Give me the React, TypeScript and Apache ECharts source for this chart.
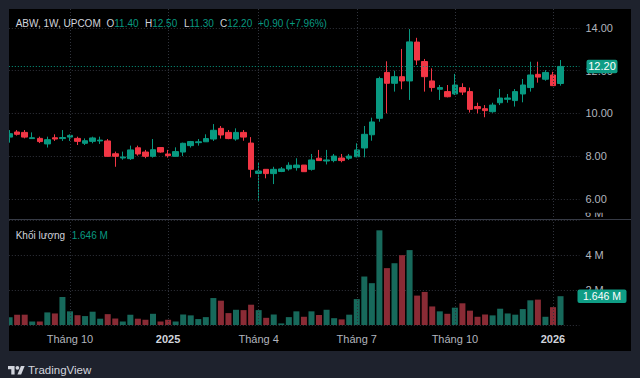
import React, { useEffect, useRef } from 'react';
import * as echarts from 'echarts';

// ---- data (weekly, ABW UPCOM) ----
const firstWeek = '2024-08-12';
const skippedWeeks = ['2025-01-27']; // Tết holiday, no trading week
const padWeeks = 2; // empty room at the right edge

const open = [
  8.89, 9.13, 9.11, 8.82, 8.83, 8.57, 8.86, 8.82, 8.89, 8.83,
  8.60, 8.69, 8.71, 8.71, 8.11, 7.91, 7.88, 8.39, 8.19, 7.99,
  8.40, 8.10, 7.99, 8.19, 8.49, 8.63, 8.67, 8.80, 9.30, 9.11,
  8.80, 9.11, 8.61, 7.19, 7.38, 7.18, 7.28, 7.40, 7.46, 7.58,
  7.38, 7.90, 7.77, 7.79, 7.91, 7.90, 7.97, 8.38, 9.00, 9.77,
  11.92, 11.41, 11.72, 11.52, 13.34, 12.43, 11.52, 11.13, 11.02, 10.91,
  11.21, 11.02, 10.32, 10.22, 10.08, 10.50, 10.66, 10.60, 10.91, 11.21,
  11.83, 11.60, 11.80, 11.40,
];
const close = [
  9.05, 9.02, 8.89, 8.86, 8.68, 8.77, 8.80, 8.87, 8.97, 8.69,
  8.72, 8.85, 8.75, 7.99, 7.99, 7.96, 8.29, 8.10, 7.99, 8.30,
  8.19, 8.02, 8.21, 8.60, 8.68, 8.67, 8.82, 9.21, 8.99, 8.82,
  9.11, 8.89, 7.38, 7.30, 7.18, 7.38, 7.40, 7.57, 7.58, 7.27,
  7.82, 7.79, 7.82, 8.00, 7.79, 8.00, 8.29, 9.02, 9.60, 11.63,
  11.41, 11.72, 11.52, 13.35, 12.50, 11.72, 11.21, 11.21, 10.78, 11.33,
  11.00, 10.19, 10.22, 10.13, 10.39, 10.72, 10.72, 11.02, 11.33, 11.80,
  11.70, 11.92, 11.30, 12.20,
];
const low = [
  8.63, 8.96, 8.83, 8.81, 8.61, 8.40, 8.71, 8.71, 8.71, 8.52,
  8.52, 8.60, 8.57, 7.97, 7.50, 7.83, 7.82, 8.02, 7.90, 7.93,
  8.16, 7.93, 7.97, 8.00, 8.40, 8.49, 8.66, 8.71, 8.82, 8.79,
  8.72, 8.72, 7.00, 5.91, 6.96, 6.69, 7.25, 7.32, 7.32, 7.27,
  7.32, 7.79, 7.61, 7.71, 7.71, 7.82, 7.94, 7.94, 8.72, 9.61,
  10.00, 11.02, 11.13, 10.63, 12.27, 11.02, 11.02, 10.63, 10.75, 10.86,
  10.86, 10.04, 10.00, 9.82, 10.03, 10.39, 10.50, 10.32, 10.52, 11.02,
  11.44, 11.53, 11.28, 11.30,
];
const high = [
  9.22, 9.22, 9.22, 9.11, 8.91, 8.91, 9.02, 9.22, 9.02, 8.91,
  8.83, 8.91, 8.91, 8.80, 8.21, 8.21, 8.49, 8.49, 8.29, 8.80,
  8.40, 8.29, 8.41, 8.63, 8.71, 8.80, 9.02, 9.50, 9.41, 9.22,
  9.30, 9.22, 8.89, 7.69, 7.38, 7.50, 7.49, 7.71, 7.90, 7.58,
  8.10, 8.29, 8.29, 8.10, 8.10, 8.10, 8.60, 9.41, 9.80, 11.72,
  12.44, 12.00, 13.02, 13.95, 13.54, 12.55, 12.11, 11.33, 11.33, 11.85,
  11.41, 11.21, 10.50, 10.39, 10.50, 11.14, 10.91, 11.14, 11.61, 12.42,
  12.42, 12.03, 11.95, 12.50,
];
// volume, millions of shares
const volume = [
  0.45, 0.59, 0.59, 0.20, 0.20, 0.72, 0.66, 1.60, 0.78, 0.56,
  0.51, 0.76, 0.36, 0.62, 0.37, 0.20, 0.59, 0.36, 0.30, 0.64,
  0.20, 0.30, 0.20, 0.60, 0.55, 0.34, 0.45, 1.54, 1.39, 0.68,
  0.87, 0.85, 1.16, 0.85, 0.41, 0.60, 0.09, 0.45, 0.78, 0.47,
  0.78, 0.57, 0.87, 0.39, 0.32, 0.59, 1.48, 2.77, 2.39, 5.41,
  3.25, 3.53, 3.99, 4.28, 1.68, 1.89, 1.06, 0.78, 0.64, 0.99,
  1.24, 0.82, 0.47, 0.60, 0.55, 0.93, 0.66, 0.59, 0.91, 1.41,
  1.45, 0.47, 1.02, 1.646,
];

const tickWeeks = ['2024-10-07', '2025-01-06', '2025-04-07', '2025-07-07', '2025-10-06', '2026-01-05'];
const tickLabels = ['Tháng 10', '2025', 'Tháng 4', 'Tháng 7', 'Tháng 10', '2026'];
const yearTicks = ['2025', '2026'];

const priceTicks = { min: 6, max: 14, step: 2 };
const volTicks = { min: 0, max: 6, step: 2 };

const header = { symbol: 'ABW, 1W, UPCOM', change: '+0.90 (+7.96%)' };

// ---- styling ----
const FONT = "'Liberation Sans', Arial, sans-serif";
const UP = '#089981';
const DOWN = '#f23645';
const VOL_UP = '#17695b';
const VOL_DOWN = '#8a2b35';
const GRID = '#30333c';
const FRAME = '#1e222d';
const TEXT = '#d1d4dc';
const AXIS_TEXT = '#b2b5be';
const LABEL_BG = '#0f9d85';

function buildWeeks(start: string, count: number, skip: string[]): string[] {
  const out: string[] = [];
  let t = Date.parse(start + 'T00:00:00Z');
  while (out.length < count) {
    const s = new Date(t).toISOString().slice(0, 10);
    if (!skip.includes(s)) out.push(s);
    t += 7 * 86400000;
  }
  return out;
}

const TV_LOGO = 'M14 22H7V11H0V4h14v18zM28 22h-8l7.5-18h8L28 22zM16 8a4 4 0 1 0 8 0a4 4 0 1 0 -8 0z';
echarts.graphic.registerShape('tvlogo', echarts.graphic.extendPath(TV_LOGO, {}) as any);

export default function App() {
  const ref = useRef<HTMLDivElement>(null);

  useEffect(() => {
    const el = ref.current;
    if (!el) return;
    const chart = echarts.init(el, undefined, { renderer: 'svg' });

    const n = close.length;
    const cats = buildWeeks(firstWeek, n + padWeeks, skippedWeeks);
    const candles = open.map((o, i) => [o, close[i], low[i], high[i]]);
    const vols = volume.map((v, i) => ({
      value: v,
      itemStyle: { color: close[i] >= open[i] ? VOL_UP : VOL_DOWN },
    }));

    const step = 7.547;
    const gridLeft = 9.6 - step / 2;
    const gridWidth = step * (n + padWeeks);
    const dotted = { color: GRID, type: [1, 2] as any, width: 1 };

    const catAxis = (gridIndex: number) => ({
      type: 'category',
      gridIndex,
      data: cats,
      boundaryGap: true,
      axisLine: { show: false },
      axisTick: { show: false },
      axisLabel: { show: false },
      splitLine: { show: false },
    });

    const option: any = {
      animation: false,
      backgroundColor: '#000000',
      textStyle: { fontFamily: FONT },
      grid: [
        { left: gridLeft, width: gridWidth, top: 28, height: 170.8 },
        { left: gridLeft, width: gridWidth, top: 220, height: 105 },
        { left: gridLeft, width: gridWidth, top: 9, height: 316 },
      ],
      xAxis: [
        catAxis(0),
        catAxis(1),
        {
          ...catAxis(2),
          axisLabel: {
            show: true,
            interval: (_i: number, v: string) => tickWeeks.includes(v),
            formatter: (v: string) => {
              const t = tickLabels[tickWeeks.indexOf(v)] ?? '';
              return yearTicks.includes(t) ? `{b|${t}}` : t;
            },
            color: AXIS_TEXT,
            fontSize: 11,
            fontFamily: FONT,
            margin: 8,
            rich: { b: { fontWeight: 'bold', color: TEXT, fontSize: 11, fontFamily: FONT } },
          },
        },
      ],
      yAxis: [
        {
          type: 'value',
          gridIndex: 0,
          position: 'right',
          min: priceTicks.min,
          max: priceTicks.max,
          interval: priceTicks.step,
          axisLine: { show: false },
          axisTick: { show: false },
          axisLabel: {
            color: AXIS_TEXT,
            fontSize: 11,
            fontFamily: FONT,
            margin: 6,
            formatter: (v: number) => v.toFixed(2),
          },
          splitLine: { show: true, lineStyle: dotted },
        },
        {
          type: 'value',
          gridIndex: 1,
          position: 'right',
          min: volTicks.min,
          max: volTicks.max,
          interval: volTicks.step,
          axisLine: { show: false },
          axisTick: { show: false },
          axisLabel: {
            color: AXIS_TEXT,
            fontSize: 11,
            fontFamily: FONT,
            margin: 6,
            formatter: (v: number) => (v === volTicks.min || v === volTicks.max ? '' : `${v} M`),
          },
          splitLine: { show: true, lineStyle: dotted },
        },
        { type: 'value', gridIndex: 2, show: false, min: 0, max: 1, splitLine: { show: false } },
      ],
      series: [
        {
          type: 'line',
          xAxisIndex: 2,
          yAxisIndex: 2,
          data: cats.map(() => '-'),
          symbol: 'none',
          silent: true,
          z: 0,
          markLine: {
            silent: true,
            symbol: ['none', 'none'],
            label: { show: false },
            lineStyle: dotted,
            data: tickWeeks.map((w) => ({ xAxis: w })),
          },
        },
        {
          type: 'candlestick',
          xAxisIndex: 0,
          yAxisIndex: 0,
          data: candles,
          barWidth: 6,
          clip: false,
          itemStyle: {
            color: UP,
            color0: DOWN,
            borderColor: UP,
            borderColor0: DOWN,
            borderWidth: 1,
          },
          markLine: {
            silent: true,
            symbol: ['none', 'none'],
            label: { show: false },
            lineStyle: { color: UP, type: [1, 2], width: 1 },
            data: [{ yAxis: close[n - 1] }],
          },
        },
        {
          type: 'bar',
          xAxisIndex: 1,
          yAxisIndex: 1,
          data: vols,
          barWidth: 6,
        },
      ],
    };

    chart.setOption(option);

    const lastClose = close[n - 1];
    const lastVol = volume[n - 1];
    const yPrice = chart.convertToPixel({ yAxisIndex: 0 }, lastClose) as number;
    const yVol = chart.convertToPixel({ yAxisIndex: 1 }, lastVol) as number;
    const axisMid = 602;
    const priceText = lastClose.toFixed(2);
    const volText = `${lastVol.toFixed(3)} M`;

    const txt = (x: number, y: number, text: string, fill: string, size = 10, extra: any = {}) => ({
      type: 'text',
      x,
      y,
      z: 60,
      style: { text, fill, fontSize: size, fontFamily: FONT, verticalAlign: 'middle', align: 'left', ...extra },
    });
    const pair = (x: number, y: number, a: string, b: string) => ({
      type: 'text',
      x,
      y,
      z: 60,
      style: {
        text: `{a|${a}}{b|${b}}`,
        fontSize: 10,
        fontFamily: FONT,
        verticalAlign: 'middle',
        rich: {
          a: { fill: TEXT, fontSize: 10, fontFamily: FONT },
          b: { fill: UP, fontSize: 10, fontFamily: FONT },
        },
      },
    });

    const graphics: any[] = [
      // frame around the black chart area
      { type: 'rect', z: 50, shape: { x: 0, y: 0, width: 640, height: 9 }, style: { fill: FRAME } },
      { type: 'rect', z: 50, shape: { x: 0, y: 0, width: 9, height: 378 }, style: { fill: FRAME } },
      { type: 'rect', z: 50, shape: { x: 631, y: 0, width: 9, height: 378 }, style: { fill: FRAME } },
      { type: 'rect', z: 50, shape: { x: 0, y: 351, width: 640, height: 27 }, style: { fill: FRAME } },
      // pane separator
      { type: 'line', z: 40, shape: { x1: 9, y1: 219.5, x2: 631, y2: 219.5 }, style: { stroke: '#363a45', lineWidth: 1 } },
      // header legend
      txt(15.7, 23.5, header.symbol, TEXT),
      pair(106.5, 23.5, 'O', open[n - 1].toFixed(2)),
      pair(145, 23.5, 'H', high[n - 1].toFixed(2)),
      pair(184, 23.5, 'L', low[n - 1].toFixed(2)),
      pair(220, 23.5, 'C', close[n - 1].toFixed(2)),
      txt(258, 23.5, header.change, UP),
      // volume legend
      txt(15.7, 235, 'Khối lượng', TEXT),
      txt(71.7, 235, volText, UP),
      // clipped top volume tick label
      txt(585, 213, `${volTicks.max} M`, AXIS_TEXT, 11),
      { type: 'rect', z: 61, shape: { x: 578, y: 205, width: 52, height: 7.8 }, style: { fill: '#000000' } },
      // last price label
      {
        type: 'rect', z: 62,
        shape: { x: axisMid - 15.5, y: yPrice - 6.7, width: 31, height: 13.4, r: 2 },
        style: { fill: LABEL_BG },
      },
      txt(axisMid, yPrice, priceText, '#ffffff', 11, { align: 'center' }),
      // last volume label
      {
        type: 'rect', z: 62,
        shape: { x: axisMid - 24.5, y: yVol - 6.7, width: 49, height: 13.4, r: 2 },
        style: { fill: LABEL_BG },
      },
      txt(axisMid, yVol, volText, '#ffffff', 10.5, { align: 'center' }),
      // footer
      { type: 'tvlogo', z: 62, x: 8, y: 364.1, scaleX: 0.47, scaleY: 0.47, style: { fill: TEXT } },
      txt(28, 370, 'TradingView', TEXT, 11.5, { fontWeight: 500 }),
    ];
    graphics.forEach((g) => {
      if (g.type === 'text') g.z = g.z < 62 && (g.x === axisMid) ? 63 : g.z;
    });
    graphics.filter((g) => g.type === 'text' && g.x === axisMid).forEach((g) => (g.z = 63));

    chart.setOption({ graphic: graphics });

    return () => chart.dispose();
  }, []);

  return <div ref={ref} style={{ position: 'fixed', left: 0, top: 0, width: 640, height: 378 }} />;
}
